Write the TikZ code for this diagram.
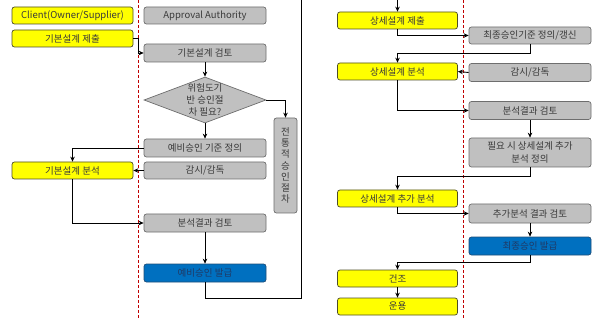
\documentclass[tikz,border=0pt]{standalone}
\usepackage{fontspec}
\setmainfont{Noto Sans CJK KR}
\usetikzlibrary{shapes.geometric,arrows.meta,calc}
\definecolor{yfill}{HTML}{FFFF00}
\definecolor{ydraw}{HTML}{4D4D26}
\definecolor{gfill}{HTML}{C0C0C0}
\definecolor{gdraw}{HTML}{6E6E6E}
\definecolor{bfill}{HTML}{0070C0}
\definecolor{bdraw}{HTML}{1F4E79}
\definecolor{btext}{HTML}{1F3A66}
\definecolor{tcol}{HTML}{3A3A3A}
\definecolor{lane}{HTML}{C00000}
\tikzset{
  box/.style={rectangle, rounded corners=2.5pt, line width=0.7pt, inner sep=1pt,
    font=\fontsize{9.5}{12.5}\selectfont, text=tcol, align=center},
  ybox/.style={box, fill=yfill, draw=ydraw, minimum width=120pt, minimum height=17pt},
  gbox/.style={box, fill=gfill, draw=gdraw, minimum width=122pt, minimum height=18pt},
  bbox/.style={box, fill=bfill, draw=bdraw, text=btext, minimum width=122pt, minimum height=18pt},
  arr/.style={draw=black, line width=0.9pt, -{Stealth[length=5pt,width=4.5pt]}},
  plainline/.style={draw=black, line width=0.9pt},
  lanesep/.style={draw=lane, line width=0.9pt, dash pattern=on 3pt off 2pt}
}
\begin{document}
\begin{tikzpicture}[x=1pt,y=-1pt]
\useasboundingbox (0,0) rectangle (596,320);
\clip (0,0) rectangle (596,320);
\fill[white] (0,0) rectangle (596,320);

% lane separators
\coordinate (L) at (138,0);
\coordinate (Lb) at (138,320);
\coordinate (R) at (463,0);
\coordinate (Rb) at (463,320);
\draw[lanesep] (L) -- (Lb);
\draw[lanesep] (R) -- (Rb);

% left part
\node[ybox, minimum width=121pt] (client) at (72.5,15.5) {Client(Owner/Supplier)};
\node[gbox, minimum height=17pt] (appr) at (205,15.5) {Approval Authority};
\node[ybox, minimum width=121pt] (bs) at (72.5,38.5) {기본설계 제출};
\node[gbox] (br) at (205,53) {기본설계 검토};
\node[diamond, fill=gfill, draw=gdraw, line width=0.7pt, minimum width=122pt, minimum height=46pt, inner sep=0pt] (dm) at (205,100) {};
\node[font=\fontsize{9.5}{12}\selectfont, text=tcol, align=center, inner sep=0pt] (dmt) at (dm.center) {위험도기\\반 승인절\\차 필요?};
\node[box, fill=gfill, draw=gdraw, minimum width=23pt, minimum height=95pt, inner sep=0pt, font=\fontsize{9.5}{11.3}\selectfont] (tr) at (285.5,165.5) {전\\통\\적\\승\\인\\절\\차};
\node[gbox] (pc) at (205,148) {예비승인 기준 정의};
\node[ybox, minimum width=121pt] (ba) at (72.5,170.5) {기본설계 분석};
\node[gbox, minimum height=17pt] (s1) at (205,170.5) {감시/감독};
\node[gbox] (ar) at (205,223) {분석결과 검토};
\node[bbox] (pi) at (205,273) {예비승인 발급};

% right part
\node[ybox] (ds) at (397.5,20.5) {상세설계 제출};
\node[gbox, minimum height=17pt] (fc) at (530,35.5) {최종승인기준 정의/갱신};
\node[ybox] (da) at (397.5,71.5) {상세설계 분석};
\node[gbox] (s2) at (530,72.5) {감시/감독};
\node[gbox] (ar2) at (530,110.5) {분석결과 검토};
\node[gbox, minimum height=29pt] (nd) at (530,152.5) {필요 시 상세설계 추가\\분석 정의};
\node[ybox] (daa) at (397.5,198.5) {상세설계 추가 분석};
\node[gbox, minimum height=19pt] (aar) at (530,213.5) {추가분석 결과 검토};
\node[bbox] (fi) at (530,246) {최종승인 발급};
\node[ybox] (con) at (397.5,278.5) {건조};
\node[ybox] (op) at (397.5,306.5) {운용};

% connectors left
\draw[arr] (bs.east) -- (bs.east -| L) |- (br.west);
\draw[arr] (br.south) -- (dm.north);
\draw[arr] (dm.east) -| (tr.north);
\draw[arr] (dm.south) -- (pc.north);
\draw[arr] (pc.west) -| (ba.north);
\draw[arr] (s1.west) -- (ba.east);
\draw[arr] (ba.south) |- (ar.west);
\draw[arr] (ar.south) -- (pi.north);
\coordinate (B) at (301,298);
\coordinate (T) at (301,-10);
\draw[arr] (pi.south) |- (B) -- (T) -| (ds.north);

% connectors right
\draw[arr] (ds.south) |- (fc.west);
\draw[arr] (fc.south) -- ++(0,9) -| (da.north);
\draw[arr] (s2.west) -- (da.east);
\draw[arr] (da.south) |- (ar2.west);
\draw[arr] (ar2.south) -- (nd.north);
\draw[arr] (nd.south) -- ++(0,9) -| (daa.north);
\draw[arr] (daa.south) |- (aar.west);
\draw[arr] (aar.south) -- (fi.north);
\draw[arr] (fi.south) -- ++(0,7) -| (con.north);
\draw[arr] (con.south) -- (op.north);
\end{tikzpicture}
\end{document}
